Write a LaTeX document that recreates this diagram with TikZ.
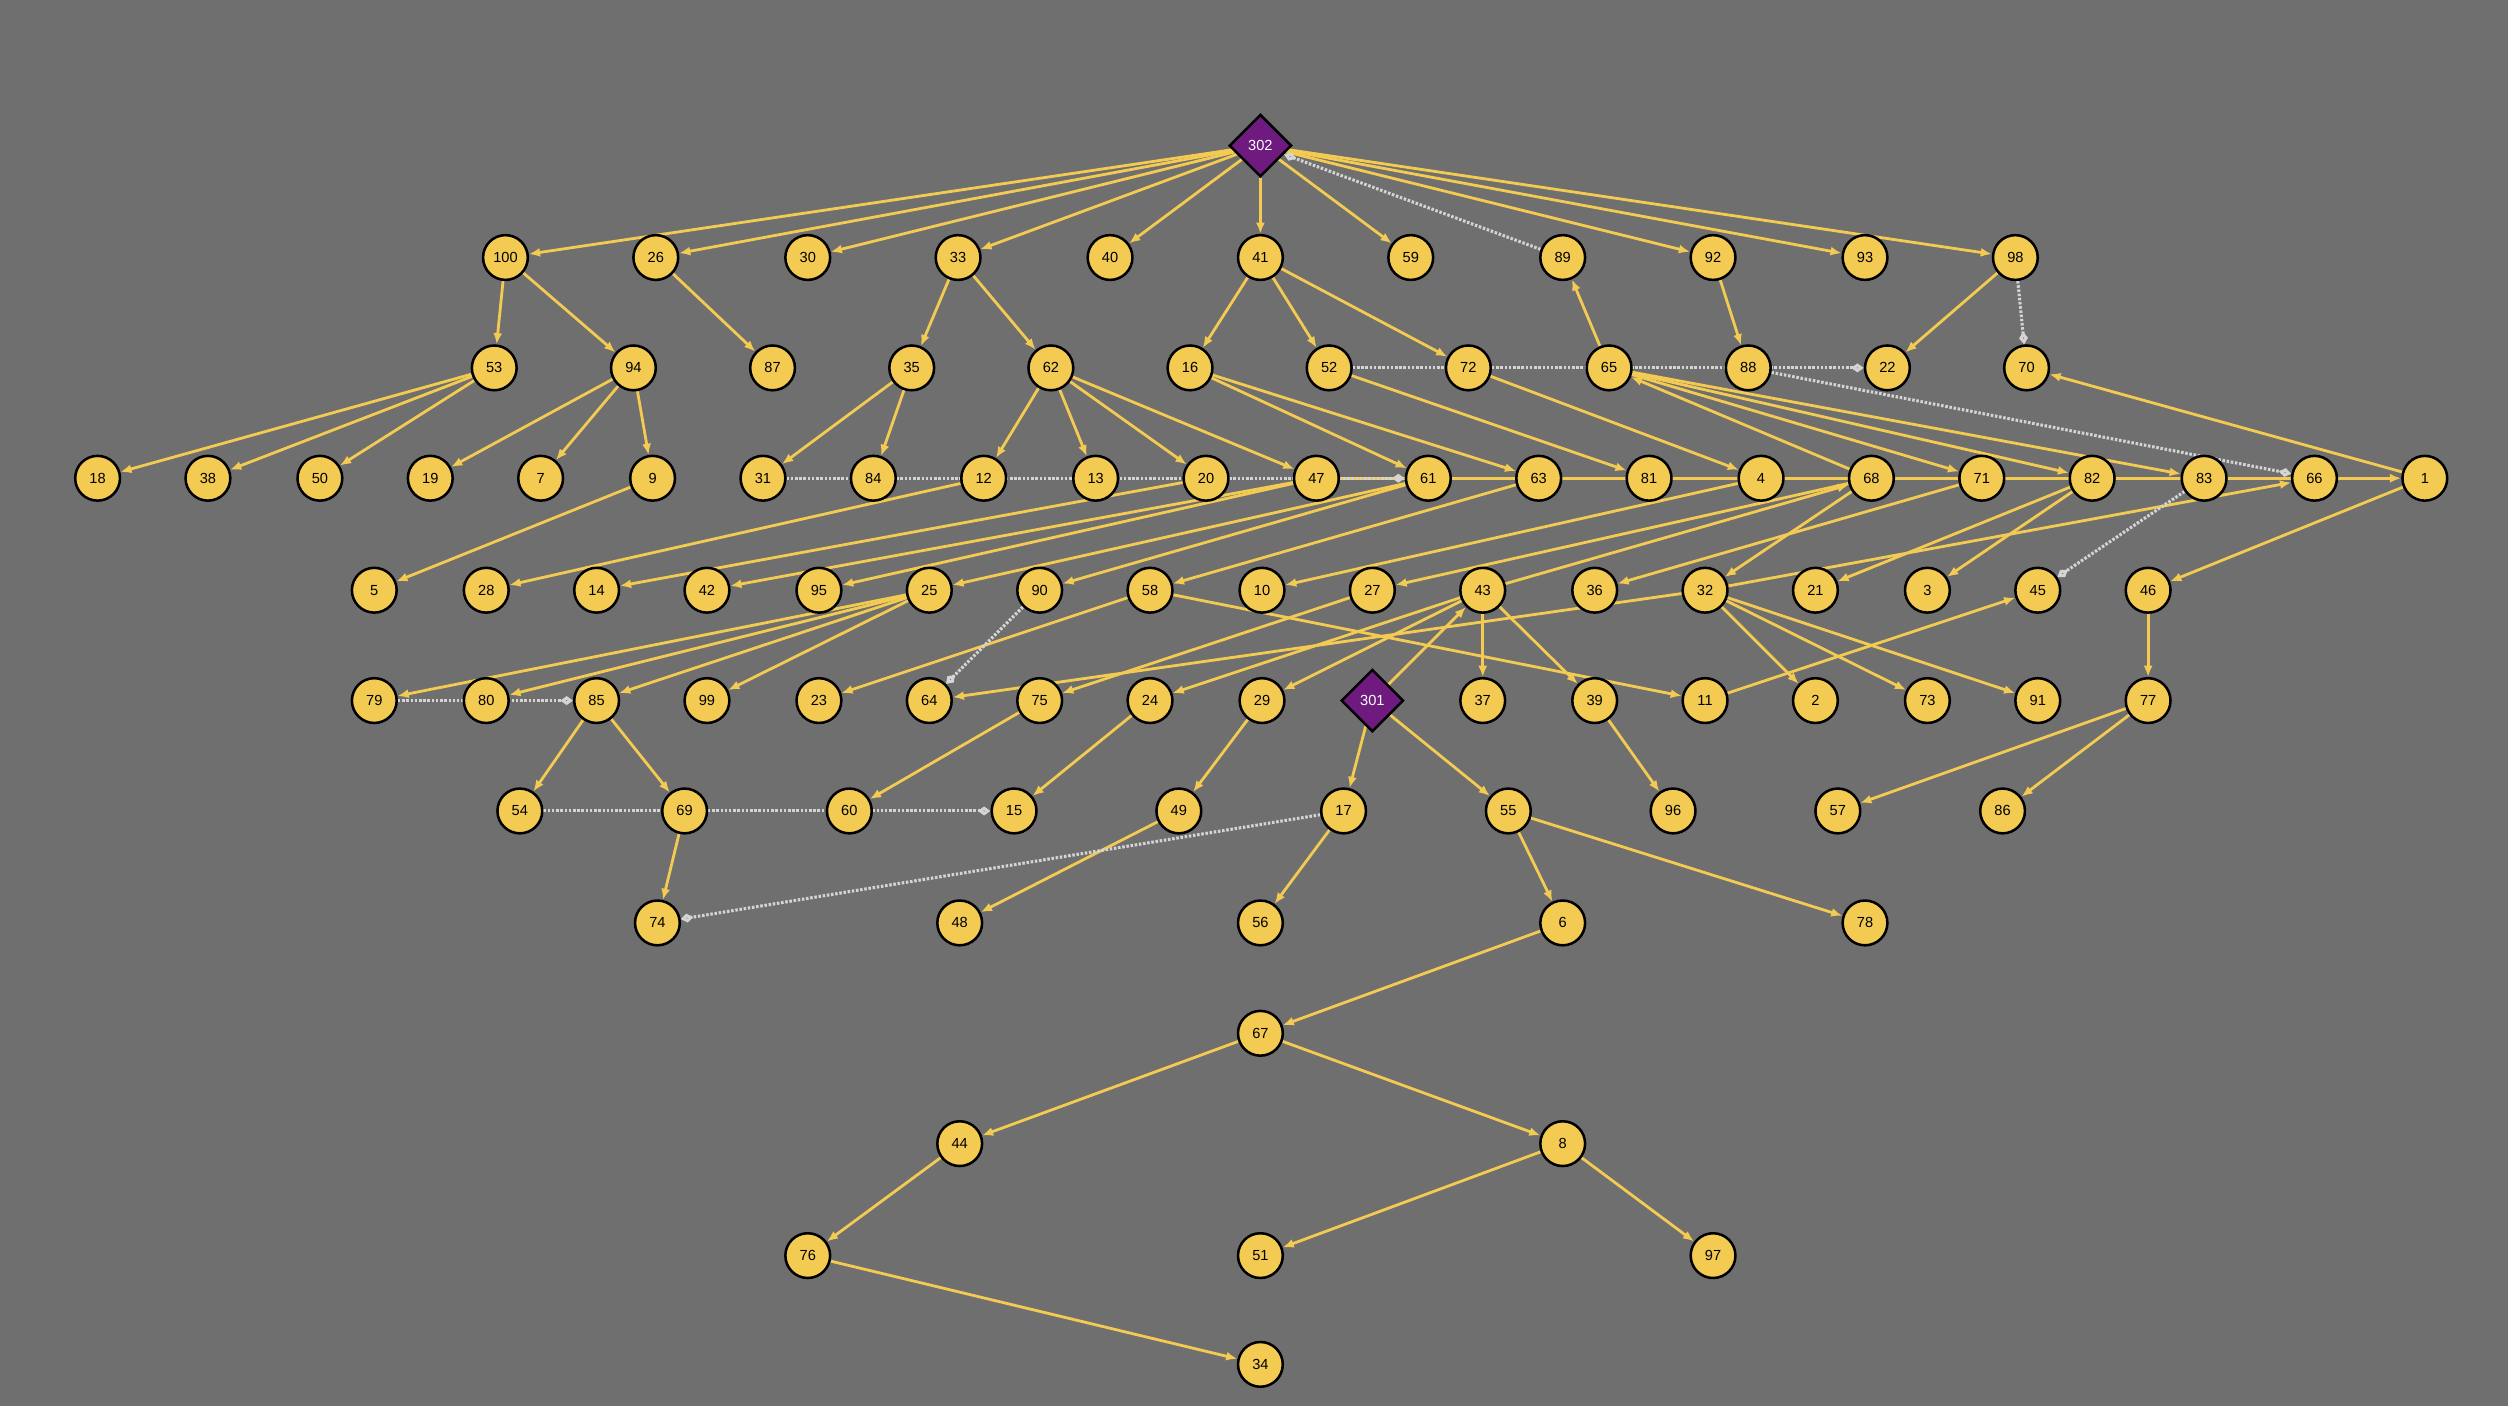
\documentclass[tikz,border=0pt]{standalone}
\usepackage{fontspec}
\setmainfont{Liberation Sans}
\usetikzlibrary{shapes.geometric,arrows.meta}
\definecolor{bggray}{HTML}{6F6F6F}
\definecolor{nodeyellow}{HTML}{F3CA52}
\definecolor{rootpurple}{HTML}{6E1A7E}
\definecolor{linkgray}{HTML}{D4D4D4}
\pgfdeclarelayer{edgelayer}
\pgfsetlayers{edgelayer,main}

\begin{document}
\begin{tikzpicture}[x=0.02cm,y=-0.02cm,
  vtx/.style={draw=black, circle, fill=nodeyellow, line width=0.9pt, minimum size=0.56cm, inner sep=0pt, font=\fontsize{5.2}{6}\selectfont},
  root/.style={draw=black, diamond, fill=rootpurple, text=white, line width=0.9pt, minimum size=0.78cm, inner sep=0pt, font=\fontsize{5.2}{6}\selectfont},
  arr/.style={draw=nodeyellow, line width=1pt, -{Latex[length=4pt,width=3.2pt]}},
  dotarr/.style={draw=linkgray, line width=1.1pt, dash pattern=on 0.9pt off 0.6pt, -{Diamond[open,length=4.5pt,width=3.2pt]}}]

\node[root] (n302) at (788,91) {302};

\node[vtx] (n100) at (316,161) {100};
\node[vtx] (n26) at (410,161) {26};
\node[vtx] (n30) at (505,161) {30};
\node[vtx] (n33) at (599,161) {33};
\node[vtx] (n40) at (694,161) {40};
\node[vtx] (n41) at (788,161) {41};
\node[vtx] (n59) at (882,161) {59};
\node[vtx] (n89) at (977,161) {89};
\node[vtx] (n92) at (1071,161) {92};
\node[vtx] (n93) at (1166,161) {93};
\node[vtx] (n98) at (1260,161) {98};

\node[vtx] (n53) at (309,230) {53};
\node[vtx] (n94) at (396,230) {94};
\node[vtx] (n87) at (483,230) {87};
\node[vtx] (n35) at (570,230) {35};
\node[vtx] (n62) at (657,230) {62};
\node[vtx] (n16) at (744,230) {16};
\node[vtx] (n52) at (831,230) {52};
\node[vtx] (n72) at (918,230) {72};
\node[vtx] (n65) at (1006,230) {65};
\node[vtx] (n88) at (1093,230) {88};
\node[vtx] (n22) at (1180,230) {22};
\node[vtx] (n70) at (1267,230) {70};

\node[vtx] (n18) at (61,299) {18};
\node[vtx] (n38) at (130,299) {38};
\node[vtx] (n50) at (200,299) {50};
\node[vtx] (n19) at (269,299) {19};
\node[vtx] (n7) at (338,299) {7};
\node[vtx] (n9) at (408,299) {9};
\node[vtx] (n31) at (477,299) {31};
\node[vtx] (n84) at (546,299) {84};
\node[vtx] (n12) at (615,299) {12};
\node[vtx] (n13) at (685,299) {13};
\node[vtx] (n20) at (754,299) {20};
\node[vtx] (n47) at (823,299) {47};
\node[vtx] (n61) at (893,299) {61};
\node[vtx] (n63) at (962,299) {63};
\node[vtx] (n81) at (1031,299) {81};
\node[vtx] (n4) at (1101,299) {4};
\node[vtx] (n68) at (1170,299) {68};
\node[vtx] (n71) at (1239,299) {71};
\node[vtx] (n82) at (1308,299) {82};
\node[vtx] (n83) at (1378,299) {83};
\node[vtx] (n66) at (1447,299) {66};
\node[vtx] (n1) at (1516,299) {1};

\node[vtx] (n5) at (234,369) {5};
\node[vtx] (n28) at (304,369) {28};
\node[vtx] (n14) at (373,369) {14};
\node[vtx] (n42) at (442,369) {42};
\node[vtx] (n95) at (512,369) {95};
\node[vtx] (n25) at (581,369) {25};
\node[vtx] (n90) at (650,369) {90};
\node[vtx] (n58) at (719,369) {58};
\node[vtx] (n10) at (789,369) {10};
\node[vtx] (n27) at (858,369) {27};
\node[vtx] (n43) at (927,369) {43};
\node[vtx] (n36) at (997,369) {36};
\node[vtx] (n32) at (1066,369) {32};
\node[vtx] (n21) at (1135,369) {21};
\node[vtx] (n3) at (1205,369) {3};
\node[vtx] (n45) at (1274,369) {45};
\node[vtx] (n46) at (1343,369) {46};

\node[vtx] (n79) at (234,438) {79};
\node[vtx] (n80) at (304,438) {80};
\node[vtx] (n85) at (373,438) {85};
\node[vtx] (n99) at (442,438) {99};
\node[vtx] (n23) at (512,438) {23};
\node[vtx] (n64) at (581,438) {64};
\node[vtx] (n75) at (650,438) {75};
\node[vtx] (n24) at (719,438) {24};
\node[vtx] (n29) at (789,438) {29};
\node[root] (n301) at (858,438) {301};
\node[vtx] (n37) at (927,438) {37};
\node[vtx] (n39) at (997,438) {39};
\node[vtx] (n11) at (1066,438) {11};
\node[vtx] (n2) at (1135,438) {2};
\node[vtx] (n73) at (1205,438) {73};
\node[vtx] (n91) at (1274,438) {91};
\node[vtx] (n77) at (1343,438) {77};

\node[vtx] (n54) at (325,507) {54};
\node[vtx] (n69) at (428,507) {69};
\node[vtx] (n60) at (531,507) {60};
\node[vtx] (n15) at (634,507) {15};
\node[vtx] (n49) at (737,507) {49};
\node[vtx] (n17) at (840,507) {17};
\node[vtx] (n55) at (943,507) {55};
\node[vtx] (n96) at (1046,507) {96};
\node[vtx] (n57) at (1149,507) {57};
\node[vtx] (n86) at (1252,507) {86};

\node[vtx] (n74) at (411,577) {74};
\node[vtx] (n48) at (600,577) {48};
\node[vtx] (n56) at (788,577) {56};
\node[vtx] (n6) at (977,577) {6};
\node[vtx] (n78) at (1166,577) {78};

\node[vtx] (n67) at (788,646) {67};
\node[vtx] (n44) at (600,715) {44};
\node[vtx] (n8) at (977,715) {8};
\node[vtx] (n76) at (505,785) {76};
\node[vtx] (n51) at (788,785) {51};
\node[vtx] (n97) at (1071,785) {97};
\node[vtx] (n34) at (788,853) {34};

\begin{pgfonlayer}{edgelayer}
\fill[bggray] (0,0) rectangle (1568,879);

% from the top diamond
\path[arr] (n302) -- (n100);
\path[arr] (n302) -- (n26);
\path[arr] (n302) -- (n30);
\path[arr] (n302) -- (n33);
\path[arr] (n302) -- (n40);
\path[arr] (n302) -- (n41);
\path[arr] (n302) -- (n59);
\path[arr] (n302) -- (n92);
\path[arr] (n302) -- (n93);
\path[arr] (n302) -- (n98);

\path[arr] (n100) -- (n53);
\path[arr] (n100) -- (n94);
\path[arr] (n26) -- (n87);
\path[arr] (n33) -- (n35);
\path[arr] (n33) -- (n62);
\path[arr] (n41) -- (n16);
\path[arr] (n41) -- (n52);
\path[arr] (n41) -- (n72);
\path[arr] (n65) -- (n89);
\path[arr] (n92) -- (n88);
\path[arr] (n98) -- (n22);

\path[arr] (n53) -- (n18);
\path[arr] (n53) -- (n38);
\path[arr] (n53) -- (n50);
\path[arr] (n94) -- (n19);
\path[arr] (n94) -- (n7);
\path[arr] (n94) -- (n9);
\path[arr] (n35) -- (n31);
\path[arr] (n35) -- (n84);
\path[arr] (n62) -- (n12);
\path[arr] (n62) -- (n13);
\path[arr] (n62) -- (n20);
\path[arr] (n62) -- (n47);
\path[arr] (n16) -- (n61);
\path[arr] (n16) -- (n63);
\path[arr] (n52) -- (n81);
\path[arr] (n72) -- (n4);
\path[arr] (n68) -- (n65);
\path[arr] (n65) -- (n71);
\path[arr] (n65) -- (n82);
\path[arr] (n65) -- (n83);
\path[arr] (n1) -- (n70);
\path[arr] (n47) -- (n1);

\path[arr] (n9) -- (n5);
\path[arr] (n12) -- (n28);
\path[arr] (n20) -- (n14);
\path[arr] (n47) -- (n42);
\path[arr] (n47) -- (n95);
\path[arr] (n61) -- (n25);
\path[arr] (n61) -- (n90);
\path[arr] (n63) -- (n58);
\path[arr] (n4) -- (n10);
\path[arr] (n68) -- (n27);
\path[arr] (n43) -- (n68);
\path[arr] (n68) -- (n32);
\path[arr] (n71) -- (n36);
\path[arr] (n82) -- (n21);
\path[arr] (n82) -- (n3);
\path[arr] (n32) -- (n66);
\path[arr] (n1) -- (n46);

\path[arr] (n25) -- (n79);
\path[arr] (n25) -- (n80);
\path[arr] (n25) -- (n85);
\path[arr] (n25) -- (n99);
\path[arr] (n58) -- (n23);
\path[arr] (n58) -- (n11);
\path[arr] (n27) -- (n75);
\path[arr] (n43) -- (n24);
\path[arr] (n43) -- (n29);
\path[arr] (n43) -- (n37);
\path[arr] (n43) -- (n39);
\path[arr] (n301) -- (n43);
\path[arr] (n32) -- (n64);
\path[arr] (n32) -- (n2);
\path[arr] (n32) -- (n73);
\path[arr] (n32) -- (n91);
\path[arr] (n11) -- (n45);
\path[arr] (n46) -- (n77);

\path[arr] (n85) -- (n54);
\path[arr] (n85) -- (n69);
\path[arr] (n75) -- (n60);
\path[arr] (n24) -- (n15);
\path[arr] (n29) -- (n49);
\path[arr] (n301) -- (n17);
\path[arr] (n301) -- (n55);
\path[arr] (n39) -- (n96);
\path[arr] (n77) -- (n57);
\path[arr] (n77) -- (n86);

\path[arr] (n69) -- (n74);
\path[arr] (n49) -- (n48);
\path[arr] (n17) -- (n56);
\path[arr] (n55) -- (n6);
\path[arr] (n55) -- (n78);
\path[arr] (n6) -- (n67);
\path[arr] (n67) -- (n44);
\path[arr] (n67) -- (n8);
\path[arr] (n44) -- (n76);
\path[arr] (n8) -- (n51);
\path[arr] (n8) -- (n97);
\path[arr] (n76) -- (n34);

% dotted links
\path[dotarr] (n89) -- (n302);
\path[dotarr] (n52) -- (n22);
\path[dotarr] (n88) -- (n66);
\path[dotarr] (n98) -- (n70);
\path[dotarr] (n31) -- (n61);
\path[dotarr] (n83) -- (n45);
\path[dotarr] (n90) -- (n64);
\path[dotarr] (n79) -- (n85);
\path[dotarr] (n54) -- (n15);
\path[dotarr] (n17) -- (n74);
\end{pgfonlayer}

\end{tikzpicture}
\end{document}
